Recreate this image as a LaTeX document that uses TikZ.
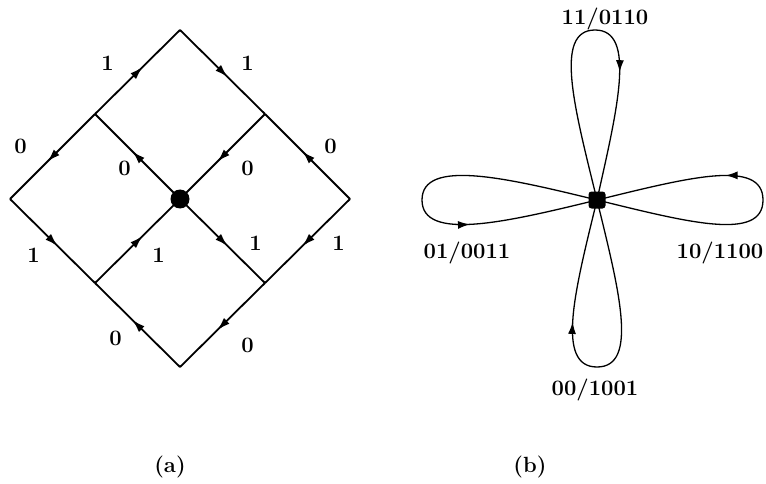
\documentclass[tikz,border=0pt]{standalone}
\usepackage{tikz}
\usetikzlibrary{arrows.meta, positioning, decorations.markings}

\begin{document}
\begin{tikzpicture}[x=1pt, y=-1pt,
    edge/.style={line width=1.8pt, line join=miter},
    petal/.style={line width=1.3pt},
    midarrow/.style={postaction={decorate}, decoration={markings,
        mark=at position 0.56 with {\arrow{Latex[length=13pt,width=8pt]}}}},
    looparrow/.style={postaction={decorate}, decoration={markings,
        mark=at position #1 with {\arrow{Latex[length=12pt,width=8pt]}}}},
    lbl/.style={font=\fontsize{22}{25}\selectfont\bfseries, inner sep=0pt},
    hubdot/.style={circle, fill, inner sep=0pt, minimum size=19pt},
    hubsq/.style={rectangle, rounded corners=3pt, fill, inner sep=0pt, minimum size=17pt}]
  \useasboundingbox (0,0) rectangle (766,484);

  % (a) the diamond
  \coordinate (top) at (180,30);
  \coordinate (left) at (10,199);
  \coordinate (bottom) at (180,367);
  \coordinate (right) at (350,199);
  \coordinate (ul) at (95,114);
  \coordinate (ur) at (265,114);
  \coordinate (ll) at (95,283);
  \coordinate (lr) at (265,283);
  \coordinate (ctr) at (180,199);

  \draw[edge, midarrow] (ul) -- node[lbl, shift={(-30,-9)}] {1} (top);
  \draw[edge, midarrow] (ul) -- node[lbl, shift={(-32,-10)}] {0} (left);
  \draw[edge, midarrow] (ctr) -- node[lbl, shift={(-13,12)}] {0} (ul);
  \draw[edge, midarrow] (top) -- node[lbl, shift={(25,-9)}] {1} (ur);
  \draw[edge, midarrow] (ur) -- node[lbl, shift={(25,12)}] {0} (ctr);
  \draw[edge, midarrow] (right) -- node[lbl, shift={(23,-10)}] {0} (ur);
  \draw[edge, midarrow] (left) -- node[lbl, shift={(-19,14)}] {1} (ll);
  \draw[edge, midarrow] (ll) -- node[lbl, shift={(21,14)}] {1} (ctr);
  \draw[edge, midarrow] (bottom) -- node[lbl, shift={(-22,13)}] {0} (ll);
  \draw[edge, midarrow] (ctr) -- node[lbl, shift={(33,2)}] {1} (lr);
  \draw[edge, midarrow] (right) -- node[lbl, shift={(31,2)}] {1} (lr);
  \draw[edge, midarrow] (lr) -- node[lbl, shift={(25,20)}] {0} (bottom);
  \node[hubdot] (ctrdot) at (ctr) {};

  % (b) the four loops
  \coordinate (hub) at (597,200);
  \draw[petal, looparrow=0.65] (hub) .. controls (575,110) and (553,30) .. (595,30)
    .. controls (637,30) and (617,110) .. (hub);
  \draw[petal, looparrow=0.64] (hub) .. controls (687,222) and (763,242) .. (763,200)
    .. controls (763,158) and (687,178) .. (hub);
  \draw[petal, looparrow=0.66] (hub) .. controls (507,178) and (422,158) .. (422,200)
    .. controls (422,242) and (507,222) .. (hub);
  \draw[petal, looparrow=0.66] (hub) .. controls (619,290) and (639,367) .. (597,367)
    .. controls (555,367) and (575,290) .. (hub);
  \node[hubsq] (hubdot) at (hub) {};

  \node[lbl] (l11) at (605,19) {11/0110};
  \node[lbl] (l10) at (720,253) {10/1100};
  \node[lbl] (l01) at (467,253) {01/0011};
  \node[lbl] (l00) at (595,390) {00/1001};

  \node[lbl] (capa) at (170,467) {(a)};
  \node[lbl] (capb) at (530,467) {(b)};
\end{tikzpicture}
\end{document}
